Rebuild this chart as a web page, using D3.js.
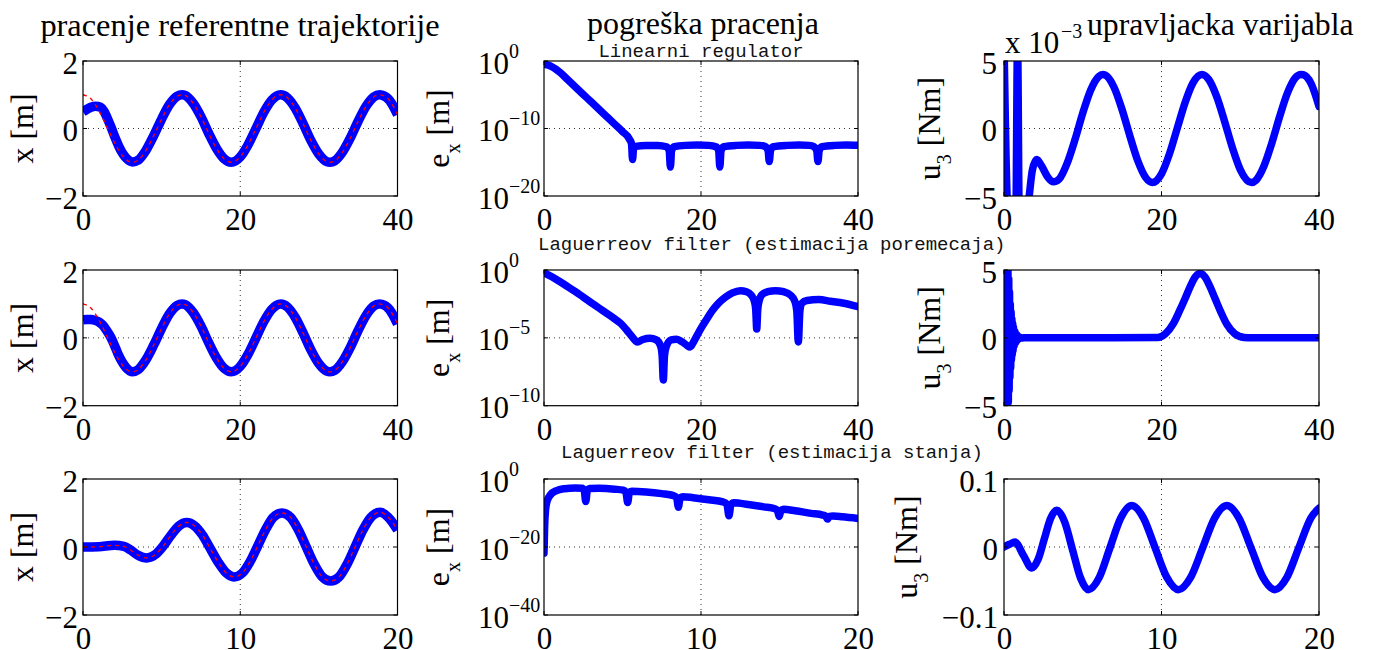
<!DOCTYPE html>
<html><head><meta charset="utf-8">
<script src="https://cdn.jsdelivr.net/npm/d3@7"></script>
<style>
body{margin:0;background:#fff}
svg{display:block;background:#fff}
</style>
</head><body>
<svg id="c" width="1373" height="650"></svg>
<script>
// ---------------- DATA ----------------
const ticks40 = [0, 20, 40];
const ticks20 = [0, 10, 20];
const yTicksPos = [-2, 0, 2];
const yTicksU1 = [-5, 0, 5];          // x 10^-3
const yTicksU2 = [-5, 0, 5];
const yTicksU3 = [-0.1, 0, 0.1];
const logTicksE1 = [-20, -10, 0];     // exponents of 10
const logTicksE2 = [-10, -5, 0];
const logTicksE3 = [-40, -20, 0];

// reference trajectory (red dashed), rows 1 and 2  [t, x]
const xRef = [[0,1.0],[1,0.88],[2,0.54],[3,0.07],[4,-0.42],[5,-0.80],[6,-0.99],[6.28,-1.0],[7,-0.94],[8,-0.65],[9,-0.21],[10,0.28],[11,0.71],[12,0.96],[12.57,1.0],[13,0.98],[14,0.75],[15,0.35],[16,-0.15],[17,-0.60],[18,-0.91],[18.85,-1.0],[20,-0.84],[21,-0.48],[22,0.0],[23,0.48],[24,0.84],[25.13,1.0],[26,0.91],[27,0.60],[28,0.14],[29,-0.36],[30,-0.76],[31,-0.98],[31.42,-1.0],[32,-0.96],[33,-0.70],[34,-0.28],[35,0.22],[36,0.66],[37,0.94],[37.7,1.0],[38,0.99],[39,0.83],[40,0.41]];
// actual position, start of the run (after t=9 it lies on the reference)
const xLinStart = [[0,0.5],[0.5,0.57],[1,0.63],[1.6,0.66],[2.2,0.63],[2.7,0.5],[3.1,0.3],[3.6,0.02],[4.1,-0.28],[4.6,-0.55],[5.1,-0.76],[5.6,-0.9],[6.3,-0.99],[7,-0.94],[8,-0.65]];
const xLagDStart = [[0,0.53],[0.5,0.54],[1,0.54],[1.5,0.52],[2,0.47],[2.5,0.38],[3,0.22],[3.5,0.03],[4,-0.22],[4.5,-0.5],[5,-0.72],[5.5,-0.88],[6.3,-1.0],[7,-0.94],[8,-0.65]];
// row 3, left (t in 0..20)
const xLagS = [[0,0.0],[1,0.01],[2,0.05],[2.6,0.02],[3,-0.08],[3.5,-0.24],[4.05,-0.32],[4.6,-0.22],[5.1,0.03],[5.6,0.35],[6.1,0.62],[6.6,0.72],[7.1,0.62],[7.6,0.35],[8.1,-0.05],[8.6,-0.45],[9.1,-0.76],[9.6,-0.88],[10.1,-0.78],[10.6,-0.45],[11.1,0.02],[11.6,0.5],[12.1,0.87],[12.65,1.0],[13.2,0.87],[13.7,0.5],[14.2,0.0],[14.7,-0.5],[15.2,-0.87],[15.75,-1.0],[16.3,-0.87],[16.8,-0.5],[17.3,0.0],[17.8,0.5],[18.3,0.87],[18.9,1.02],[19.4,0.88],[20,0.5]];
const xRefS = [[0,0.0],[1,0.01],[2,0.05],[2.6,0.02],[3,-0.08],[3.5,-0.24],[4.05,-0.32],[4.6,-0.22],[5.1,0.03],[5.6,0.35],[6.1,0.62],[6.6,0.72],[7.1,0.62],[7.6,0.35],[8.1,-0.05],[8.6,-0.45],[9.1,-0.76],[9.6,-0.88],[10.1,-0.78],[10.6,-0.45],[11.1,0.02],[11.6,0.5],[12.1,0.87],[12.65,1.0],[13.2,0.87],[13.7,0.5],[14.2,0.0],[14.7,-0.5],[15.2,-0.87],[15.75,-1.0],[16.3,-0.87],[16.8,-0.5],[17.3,0.0],[17.8,0.5],[18.3,0.87],[18.9,1.02],[19.4,0.88],[20,0.5]];

// tracking error, log10 of e_x  [t, exponent]
const errLinExp = [[0,-0.45],[0.5,-0.6],[1,-0.85],[1.5,-1.2],[2,-1.65],[3,-2.75],[4,-3.85],[5,-4.95],[6,-6.05],[7,-7.15],[8,-8.25],[9,-9.35],[10,-10.45],[10.9,-11.6],[11.15,-12.3],[11.28,-14.6],[11.42,-12.9],[11.7,-12.65],[13,-12.5],[14.5,-12.5],[15.6,-12.7],[15.95,-13.3],[16.1,-15.7],[16.25,-13.3],[16.6,-12.7],[18,-12.5],[19.5,-12.45],[21,-12.5],[21.9,-12.7],[22.25,-13.3],[22.4,-15.7],[22.55,-13.3],[22.9,-12.7],[24.5,-12.5],[26,-12.45],[27.5,-12.5],[28.2,-12.7],[28.55,-13.3],[28.7,-14.9],[28.85,-13.3],[29.2,-12.7],[31,-12.5],[32.5,-12.45],[33.8,-12.5],[34.4,-12.7],[34.75,-13.3],[34.9,-14.9],[35.05,-13.3],[35.4,-12.7],[37,-12.5],[38.5,-12.45],[40,-12.5]];
const errLagDExp = [[0,-0.2],[1,-0.5],[2,-0.85],[3,-1.22],[4,-1.6],[5,-2.0],[6,-2.4],[7,-2.8],[8,-3.2],[9,-3.6],[9.8,-3.95],[10.5,-4.4],[11.2,-4.9],[11.9,-5.3],[12.6,-5.12],[13.5,-5.03],[14.3,-5.15],[14.85,-5.6],[15.05,-6.3],[15.2,-8.1],[15.35,-6.3],[15.6,-5.6],[16.2,-5.15],[16.9,-5.1],[17.6,-5.3],[18.2,-5.55],[18.6,-5.68],[19.1,-5.25],[19.8,-4.5],[20.7,-3.65],[21.5,-2.95],[22.3,-2.4],[23.1,-2.0],[24,-1.68],[25,-1.52],[25.8,-1.6],[26.4,-1.85],[26.8,-2.3],[26.97,-2.9],[27.1,-4.35],[27.23,-2.9],[27.4,-2.3],[27.8,-1.8],[28.5,-1.6],[29.5,-1.52],[30.5,-1.6],[31.4,-1.85],[31.95,-2.3],[32.2,-3.0],[32.4,-5.3],[32.6,-3.0],[32.85,-2.45],[33.5,-2.25],[35,-2.18],[36.5,-2.3],[38.2,-2.45],[40,-2.7]];
const errLagSExp = [[0,-21.8],[0.04,-14],[0.1,-9],[0.2,-6.5],[0.4,-4.7],[0.8,-3.4],[1.3,-2.85],[2.0,-2.62],[2.42,-2.7],[2.56,-3.3],[2.66,-6.6],[2.76,-3.3],[2.9,-2.8],[3.5,-2.75],[4.5,-3.0],[5.05,-3.3],[5.22,-3.9],[5.33,-6.9],[5.44,-3.9],[5.6,-3.6],[6.5,-3.8],[7.5,-4.3],[8.25,-4.9],[8.45,-5.5],[8.56,-8.3],[8.67,-5.5],[8.85,-5.2],[9.5,-5.5],[10.5,-6.1],[11.4,-6.75],[11.65,-7.4],[11.78,-10.8],[11.91,-7.4],[12.1,-7.0],[13,-7.5],[14,-8.2],[14.7,-8.75],[14.87,-9.3],[14.98,-11.0],[15.09,-9.3],[15.25,-8.9],[16,-9.35],[17,-10.1],[17.75,-10.6],[17.95,-11.0],[18.06,-11.8],[18.17,-11.0],[18.4,-10.9],[19,-11.1],[20,-11.6]];

// control variable u3
const uLin = [[0,6.5],[0.55,-6.5],[1.5,-6.5],[1.72,6.5],[1.94,-6.5],[2.8,-7],[3.2,-5.0],[3.6,-3.1],[4.15,-2.3],[4.8,-2.8],[5.5,-3.55],[6.3,-3.95],[7,-3.75],[8,-2.6],[9,-0.85],[10,1.14],[11,2.84],[12,3.84],[12.57,4.0],[13,3.91],[14,3.02],[15,1.39],[16,-0.58],[17,-2.41],[18,-3.64],[18.85,-4.0],[20,-3.36],[21,-1.90],[22,0.02],[23,1.93],[24,3.38],[25.13,4.0],[26,3.63],[27,2.38],[28,0.55],[29,-1.42],[30,-3.04],[31.42,-4.0],[32,-3.83],[33,-2.8],[34,-1.1],[35,0.88],[36,2.64],[37,3.76],[37.7,4.0],[38,3.98],[39,3.32],[40,1.63]]; // x 10^-3
const uLagD = [[0,7],[0.05,-7],[0.1,6.8],[0.15,-6.6],[0.2,6.4],[0.25,-6.2],[0.3,6.0],[0.35,-5.8],[0.4,5.6],[0.45,-5.4],[0.5,5.1],[0.55,-4.8],[0.6,4.4],[0.65,-3.9],[0.7,3.4],[0.75,-2.9],[0.8,2.5],[0.85,-2.2],[0.9,1.9],[0.95,-1.65],[1.0,1.45],[1.05,-1.25],[1.1,1.1],[1.15,-0.95],[1.2,0.8],[1.3,-0.6],[1.4,0.45],[1.5,-0.33],[1.6,0.24],[1.7,-0.17],[1.8,0.12],[1.9,-0.08],[2.0,0.05],[2.2,-0.02],[2.5,0],[10,0],[19.5,0.02],[20.5,0.3],[21.5,1.05],[22.3,2.0],[23,2.9],[23.7,3.85],[24.3,4.5],[24.9,4.75],[25.5,4.5],[26.1,3.85],[26.8,2.9],[27.5,1.95],[28.3,1.0],[29.3,0.3],[30.5,0.03],[31.5,0],[40,0]];
const uLagS = [[0,0],[0.35,0.004],[0.7,0.0073],[1.23,-0.012],[1.76,-0.031],[2.16,-0.0185],[2.555,0.0115],[2.95,0.0415],[3.35,0.054],[3.85,0.037],[4.355,-0.0043],[4.86,-0.0456],[5.36,-0.0627],[6.05,-0.0447],[6.73,-0.0009],[7.42,0.0429],[8.1,0.061],[8.85,0.0429],[9.59,-0.0009],[10.34,-0.0447],[11.08,-0.0627],[11.85,-0.0447],[12.62,-0.0009],[13.38,0.0429],[14.15,0.061],[14.91,0.0429],[15.68,-0.0009],[16.44,-0.0447],[17.2,-0.0627],[17.96,-0.0447],[18.72,-0.0009],[19.49,0.0429],[20,0.057]];

// ---------------- LAYOUT ----------------
const SERIF = '"Liberation Serif","Times New Roman",serif';
const MONO = '"Liberation Mono","Courier New",monospace';
const colX = [[83, 397.5], [544, 858], [1004, 1319]];
const rowY = [[61, 196], [270, 405.7], [479, 615]];
const BLUE = '#0000ff', RED = '#ff0000';

const svg = d3.select('#c');
svg.append('rect').attr('width', 1373).attr('height', 650).attr('fill', '#fff');
let clipN = 0;

function panel(o) {
  const [x0, x1] = colX[o.col], [y0, y1] = rowY[o.row];
  const xs = d3.scaleLinear().domain(o.xDomain).range([x0, x1]);
  const ys = (o.log ? d3.scaleLog() : d3.scaleLinear()).domain(o.yDomain).range([y1, y0]);
  const g = svg.append('g');
  const id = 'clip' + (clipN++);
  svg.append('clipPath').attr('id', id).append('rect')
    .attr('x', x0).attr('y', y0).attr('width', x1 - x0).attr('height', y1 - y0);

  // grid (dotted) at interior ticks
  const yTickVals = o.log ? o.yTicks.map(e => Math.pow(10, e)) : o.yTicks;
  o.xTicks.forEach(t => {
    const X = xs(t);
    if (X > x0 + 1 && X < x1 - 1)
      g.append('line').attr('x1', X).attr('x2', X).attr('y1', y0).attr('y2', y1)
        .attr('stroke', '#333').attr('stroke-width', 1).attr('stroke-dasharray', '1,4');
  });
  yTickVals.forEach(v => {
    const Y = ys(v);
    if (Y > y0 + 1 && Y < y1 - 1)
      g.append('line').attr('x1', x0).attr('x2', x1).attr('y1', Y).attr('y2', Y)
        .attr('stroke', '#333').attr('stroke-width', 1).attr('stroke-dasharray', '1,4');
  });

  // series
  o.series.forEach(s => {
    const line = d3.line()
      .x(d => xs(d[0]))
      .y(d => ys(o.log ? Math.pow(10, d[1]) : d[1]))
      .curve(d3.curveMonotoneX);
    g.append('path').datum(s.data).attr('clip-path', `url(#${id})`)
      .attr('d', line).attr('fill', 'none')
      .attr('stroke', s.color).attr('stroke-width', s.width)
      .attr('stroke-linejoin', 'round').attr('stroke-linecap', s.cap || 'round')
      .attr('stroke-dasharray', s.dash || null);
  });

  // box
  g.append('rect').attr('x', x0).attr('y', y0).attr('width', x1 - x0).attr('height', y1 - y0)
    .attr('fill', 'none').attr('stroke', '#000').attr('stroke-width', 1.2);
  // inner tick marks on all four sides
  o.xTicks.forEach(t => {
    const X = xs(t);
    g.append('line').attr('x1', X).attr('x2', X).attr('y1', y1).attr('y2', y1 - 4).attr('stroke', '#000');
    g.append('line').attr('x1', X).attr('x2', X).attr('y1', y0).attr('y2', y0 + 4).attr('stroke', '#000');
  });
  yTickVals.forEach(v => {
    const Y = ys(v);
    g.append('line').attr('x1', x0).attr('x2', x0 + 4).attr('y1', Y).attr('y2', Y).attr('stroke', '#000');
    g.append('line').attr('x1', x1).attr('x2', x1 - 4).attr('y1', Y).attr('y2', Y).attr('stroke', '#000');
  });

  // x axis labels
  const ax = g.append('g').attr('transform', `translate(0,${y1})`)
    .call(d3.axisBottom(xs).tickValues(o.xTicks).tickSize(0).tickFormat(d3.format('d')));
  ax.select('.domain').remove();
  ax.selectAll('text').attr('y', 34).attr('dy', null)
    .style('font-family', SERIF).style('font-size', '31px').attr('fill', '#000');

  // y axis labels
  const ay = g.append('g').attr('transform', `translate(${x0},0)`)
    .call(d3.axisLeft(ys).tickValues(yTickVals).tickSize(0)
      .tickFormat(o.log ? () => '' : o.yFormat));
  ay.select('.domain').remove();
  if (!o.log) {
    ay.selectAll('text').attr('x', -o.yGap).attr('dy', null).attr('y', 12)
      .style('font-family', SERIF).style('font-size', '31px').attr('fill', '#000');
  } else {
    ay.selectAll('.tick').each(function (v) {
      const e = Math.round(Math.log10(v));
      const t = d3.select(this);
      t.select('text').remove();
      t.append('text').attr('x', -35).attr('y', 12).attr('text-anchor', 'end')
        .style('font-family', SERIF).style('font-size', '31px').attr('fill', '#000').text('10');
      t.append('text').attr('x', -35).attr('y', -4).attr('text-anchor', 'start')
        .style('font-family', SERIF).style('font-size', '20px').attr('fill', '#000')
        .text(d3.format('d')(e));
    });
  }

  // y label (rotated)
  const cy = (y0 + y1) / 2;
  const lab = svg.append('text')
    .attr('transform', `translate(${o.labX},${cy}) rotate(-90)`)
    .attr('text-anchor', 'middle')
    .style('font-family', SERIF).style('font-size', '32px').attr('fill', '#000');
  lab.append('tspan').text(o.label[0]);
  if (o.label[1]) {
    lab.append('tspan').attr('dy', 11).style('font-size', '20px').text(o.label[1]);
    lab.append('tspan').attr('dy', -11).text(o.label[2]);
  }
}

const fmtInt = d3.format('d');
const fmtU3 = d => d === 0 ? '0' : d3.format('.1f')(d);

// row 1
panel({col: 0, row: 0, xDomain: [0, 40], xTicks: ticks40, yDomain: [-2, 2], yTicks: yTicksPos, yFormat: fmtInt, yGap: 5, labX: 33, label: ['x [m]'],
  series: [{data: xLinStart.concat(xRef.filter(d => d[0] >= 9)), color: BLUE, width: 9.5, cap: 'butt'},
           {data: xRef, color: RED, width: 1.3, dash: '4,4', cap: 'butt'}]});
panel({col: 1, row: 0, xDomain: [0, 40], xTicks: ticks40, log: true, yDomain: [1e-20, 1], yTicks: logTicksE1, labX: 449, label: ['e', 'x', ' [m]'],
  series: [{data: errLinExp, color: BLUE, width: 7.5}]});
panel({col: 2, row: 0, xDomain: [0, 40], xTicks: ticks40, yDomain: [-5, 5], yTicks: yTicksU1, yFormat: fmtInt, yGap: 7, labX: 940, label: ['u', '3', ' [Nm]'],
  series: [{data: uLin, color: BLUE, width: 7.5}]});
// row 2
panel({col: 0, row: 1, xDomain: [0, 40], xTicks: ticks40, yDomain: [-2, 2], yTicks: yTicksPos, yFormat: fmtInt, yGap: 5, labX: 33, label: ['x [m]'],
  series: [{data: xLagDStart.concat(xRef.filter(d => d[0] >= 9)), color: BLUE, width: 9.5, cap: 'butt'},
           {data: xRef, color: RED, width: 1.3, dash: '4,4', cap: 'butt'}]});
panel({col: 1, row: 1, xDomain: [0, 40], xTicks: ticks40, log: true, yDomain: [1e-10, 1], yTicks: logTicksE2, labX: 449, label: ['e', 'x', ' [m]'],
  series: [{data: errLagDExp, color: BLUE, width: 7.5}]});
panel({col: 2, row: 1, xDomain: [0, 40], xTicks: ticks40, yDomain: [-5, 5], yTicks: yTicksU2, yFormat: fmtInt, yGap: 7, labX: 940, label: ['u', '3', ' [Nm]'],
  series: [{data: uLagD, color: BLUE, width: 7.5}]});
// row 3
panel({col: 0, row: 2, xDomain: [0, 20], xTicks: ticks20, yDomain: [-2, 2], yTicks: yTicksPos, yFormat: fmtInt, yGap: 5, labX: 33, label: ['x [m]'],
  series: [{data: xLagS, color: BLUE, width: 9.5, cap: 'butt'},
           {data: xRefS, color: RED, width: 1.3, dash: '4,4', cap: 'butt'}]});
panel({col: 1, row: 2, xDomain: [0, 20], xTicks: ticks20, log: true, yDomain: [1e-40, 1], yTicks: logTicksE3, labX: 449, label: ['e', 'x', ' [m]'],
  series: [{data: errLagSExp, color: BLUE, width: 7.5}]});
panel({col: 2, row: 2, xDomain: [0, 20], xTicks: ticks20, yDomain: [-0.1, 0.1], yTicks: yTicksU3, yFormat: fmtU3, yGap: 6, labX: 917, label: ['u', '3', ' [Nm]'],
  series: [{data: uLagS, color: BLUE, width: 7.5}]});

// ---------------- TITLES ----------------
function txt(x, y, s, size, fam, anchor) {
  return svg.append('text').attr('x', x).attr('y', y).attr('text-anchor', anchor || 'middle')
    .style('font-family', fam).style('font-size', size + 'px').attr('fill', '#000').text(s);
}
txt(240, 36, 'pracenje referentne trajektorije', 32.4, SERIF);
txt(703, 34, 'pogreška pracenja', 32, SERIF);
txt(1087, 35, 'upravljacka varijabla', 31.7, SERIF, 'start');
txt(1005, 52.5, 'x 10', 31, SERIF, 'start');
txt(1061, 38, '\u22123', 20, SERIF, 'start');
txt(701, 57, 'Linearni regulator', 19, MONO).attr('fill', '#111');
txt(538, 249.5, 'Laguerreov filter (estimacija poremecaja)', 19, MONO, 'start').attr('fill', '#111');
txt(561, 457.5, 'Laguerreov filter (estimacija stanja)', 19, MONO, 'start').attr('fill', '#111');
</script>
</body></html>
